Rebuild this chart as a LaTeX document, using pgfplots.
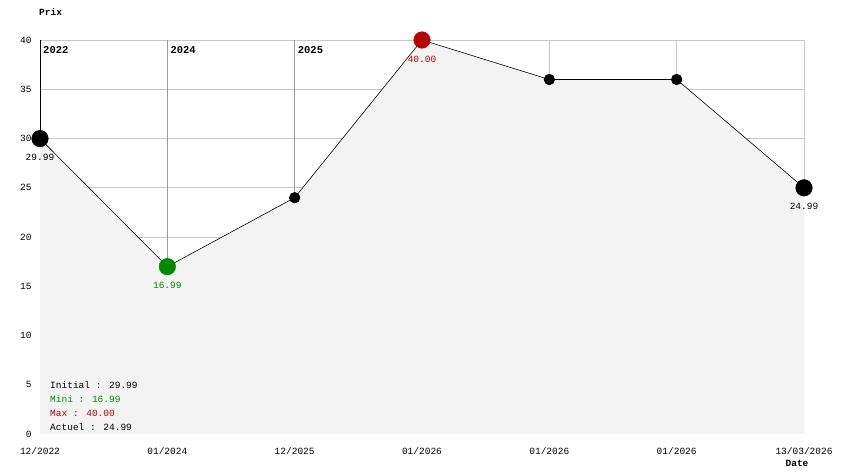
\documentclass[border=0pt]{standalone}
\usepackage{pgfplots}
\pgfplotsset{compat=1.18}
\usepackage{fontspec}
\setmainfont{Liberation Mono}
\definecolor{fillg}{HTML}{F3F3F3}
\definecolor{gridl}{HTML}{C8C8C8}
\definecolor{gridd}{HTML}{9A9A9A}
\definecolor{mingreen}{HTML}{008A00}
\definecolor{maxred}{HTML}{BB0000}
\begin{document}
\begin{tikzpicture}[x=1pt,y=1pt]
\path (0,0) rectangle (844,474);
\begin{axis}[
  set layers=standard,
  at={(40pt,40pt)}, anchor=south west,
  scale only axis, width=764pt, height=394pt,
  xmin=0, xmax=6, ymin=0, ymax=40,
  axis line style={draw=none},
  major tick length=0pt,
  xtick={1,2,3,4,5},
  xticklabels={01/2024,12/2025,01/2026,01/2026,01/2026},
  extra x ticks={0,6}, extra x tick labels={12/2022,13/03/2026},
  extra x tick style={grid=none},
  ytick={5,10,...,40},
  extra y ticks={0}, extra y tick style={grid=none},
  ymajorgrids, xmajorgrids,
  major grid style={gridl, line width=0.8pt},
  tick label style={font=\fontsize{9.5}{10}\selectfont},
  /pgf/number format/assume math mode=true,
  xticklabel style={yshift=-10pt},
  yticklabel style={xshift=-5pt},
  clip=false,
]
\addplot[gridd, line width=0.8pt] coordinates {(1,0) (1,40)};
\addplot[gridd, line width=0.8pt] coordinates {(2,0) (2,40)};
\addplot[gridd, line width=0.8pt] coordinates {(3,0) (3,40)};
\addplot[gridl, line width=0.8pt] coordinates {(6,24.99) (6,40)};
\addplot[black, line width=0.8pt] coordinates {(0,29.99) (0,40)};
\addplot[draw=none, fill=fillg] coordinates {(0,0) (0,29.99) (1,16.99) (2,23.99) (3,40.00) (4,35.99) (5,35.99) (6,24.99) (6,0)} -- cycle;
\addplot[black, line width=0.6pt, mark=*, mark size=5.3pt] coordinates {(0,29.99) (1,16.99) (2,23.99) (3,40.00) (4,35.99) (5,35.99) (6,24.99)};
\addplot[only marks, mark=*, mark size=8.3pt, black] coordinates {(0,29.99) (6,24.99)};
\addplot[only marks, mark=*, mark size=8.3pt, mingreen, mark options={draw=mingreen, fill=mingreen}] coordinates {(1,16.99)};
\addplot[only marks, mark=*, mark size=8.3pt, maxred, mark options={draw=maxred, fill=maxred}] coordinates {(3,40.00)};
\node[anchor=north west, font=\fontsize{10.5}{11}\bfseries\selectfont, inner sep=0pt] at (axis cs:0,40) [xshift=3pt, yshift=-6pt] {2022};
\node[anchor=north west, font=\fontsize{10.5}{11}\bfseries\selectfont, inner sep=0pt] at (axis cs:1,40) [xshift=3pt, yshift=-6pt] {2024};
\node[anchor=north west, font=\fontsize{10.5}{11}\bfseries\selectfont, inner sep=0pt] at (axis cs:2,40) [xshift=3pt, yshift=-6pt] {2025};
\node[font=\fontsize{9.5}{10}\selectfont, black] at (axis cs:0,29.99) [yshift=-19pt] {29.99};
\node[font=\fontsize{9.5}{10}\selectfont, mingreen] at (axis cs:1,16.99) [yshift=-19pt] {16.99};
\node[font=\fontsize{9.5}{10}\selectfont, maxred] at (axis cs:3,40.00) [yshift=-19pt] {40.00};
\node[font=\fontsize{9.5}{10}\selectfont, black] at (axis cs:6,24.99) [yshift=-19pt] {24.99};
\node[anchor=west, inner sep=0pt, font=\fontsize{9.5}{10}\selectfont, black] at (axis cs:0,4.97) [xshift=10pt] {Initial : 29.99};
\node[anchor=west, inner sep=0pt, font=\fontsize{9.5}{10}\selectfont, mingreen] at (axis cs:0,3.55) [xshift=10pt] {Mini : 16.99};
\node[anchor=west, inner sep=0pt, font=\fontsize{9.5}{10}\selectfont, maxred] at (axis cs:0,2.13) [xshift=10pt] {Max : 40.00};
\node[anchor=west, inner sep=0pt, font=\fontsize{9.5}{10}\selectfont, black] at (axis cs:0,0.71) [xshift=10pt] {Actuel : 24.99};
\end{axis}
\node[anchor=west, inner sep=0pt, font=\fontsize{9.5}{10}\bfseries\selectfont] at (39,462) {Prix};
\node[anchor=center, inner sep=0pt, font=\fontsize{9.5}{10}\bfseries\selectfont] at (797,11) {Date};
\end{tikzpicture}
\end{document}
